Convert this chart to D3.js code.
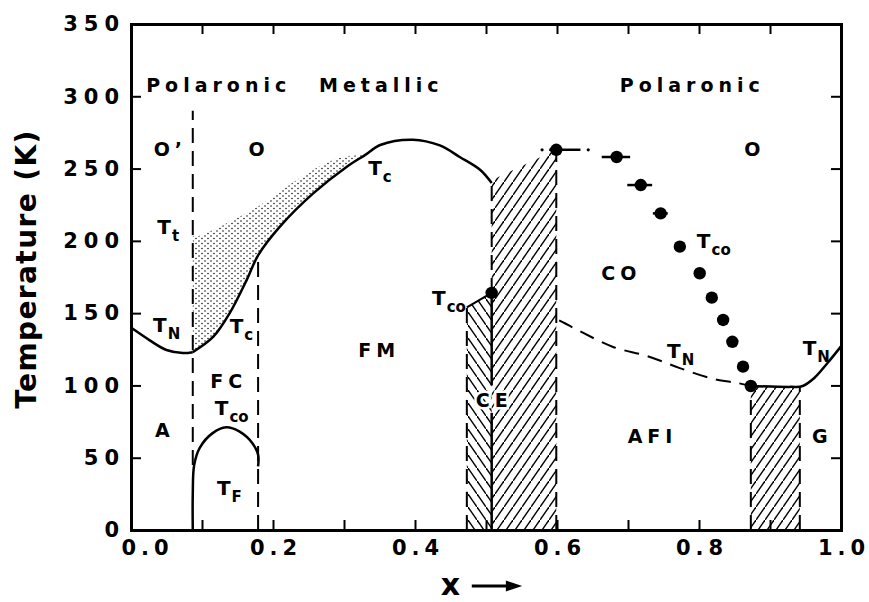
<!DOCTYPE html>
<html>
<head>
<meta charset="utf-8">
<script src="https://cdn.jsdelivr.net/npm/d3@7"></script>
<style>
body { margin: 0; background: #fff; }
text { font-family: "DejaVu Sans", sans-serif; font-weight: bold; fill: #000; }
</style>
</head>
<body>
<div id="the_chart"></div>
<script>
// phase boundaries (x = doping, T in K)
var tnLeftX = [0.0, 0.027, 0.05, 0.073, 0.087];
var tnLeftT = [140, 131, 124.5, 122.4, 123];

var tcX = [0.087, 0.116, 0.139, 0.163, 0.179, 0.210, 0.257, 0.304, 0.33, 0.351, 0.397, 0.435, 0.463, 0.492, 0.508];
var tcT = [123, 133.7, 150, 173, 190, 210, 233, 251.3, 259.5, 266.3, 270, 266, 258, 249, 240];

// upper edge of the stippled band
var stipX = [0.087, 0.09, 0.139, 0.186, 0.233, 0.28, 0.304, 0.33];
var stipT = [204, 203, 213.3, 226, 242, 255, 258.5, 259.5];

var tfX = [0.087, 0.087, 0.089, 0.097, 0.115, 0.134, 0.153, 0.171, 0.179, 0.179];
var tfT = [0, 25, 45, 57, 67, 71, 68, 60, 52, 44];

var tnDashX = [0.603, 0.611, 0.632, 0.679, 0.727, 0.773, 0.82, 0.854, 0.873];
var tnDashT = [145, 143, 137.6, 126.6, 120.3, 112, 104.5, 101.7, 99.6];

var tnRightX = [0.873, 0.93, 0.945, 0.962, 0.981, 1.0];
var tnRightT = [99.6, 99, 99.4, 105, 115.5, 127];

// T_co points with horizontal error bars
var tcoX = [0.508, 0.599, 0.684, 0.718, 0.746, 0.773, 0.801, 0.818, 0.834, 0.847, 0.862, 0.873];
var tcoT = [164, 263, 258, 238.6, 219, 196, 177.6, 160.7, 145.3, 130.2, 113, 99.6];
var tcoErrLo = [0, 0.01, 0.021, 0.019, 0.011, 0, 0, 0, 0, 0, 0, 0];
var tcoErrHi = [0, 0.034, 0.019, 0.016, 0.010, 0, 0, 0, 0, 0, 0, 0];
var guideX = [0.579, 0.644];

// vertical dashed boundaries
var vDashX = [0.087, 0.179, 0.473, 0.508, 0.599, 0.873, 0.942];
var vDashLo = [45, 0, 0, 164, 0, 0, 0];
var vDashHi = [290, 190, 154, 240, 263, 99.6, 99];

// solid boundary under the CE point, split round the label
var ceLineLo = [0, 100];
var ceLineHi = [81, 164];
var ceTopX = [0.473, 0.508];
var ceTopT = [154, 164];

// hatched mixed-phase regions
var hatchBackX = [0.473, 0.473, 0.508, 0.508];
var hatchBackT = [0, 154, 164, 0];
var hatchCeX = [0.508, 0.508, 0.599, 0.599];
var hatchCeT = [0, 242, 263, 0];
var hatchGX = [0.873, 0.873, 0.942, 0.942];
var hatchGT = [0, 99.6, 99, 0];

var xTickVals = [0, 0.1, 0.2, 0.3, 0.4, 0.5, 0.6, 0.7, 0.8, 0.9, 1.0];
var xTickText = ["0.0", "", "0.2", "", "0.4", "", "0.6", "", "0.8", "", "1.0"];
var yTickVals = [0, 50, 100, 150, 200, 250, 300, 350];

var wordText = ["Polaronic", "Metallic", "Polaronic", "O\u2019", "O", "O", "A", "FC", "FM", "CE", "CO", "AFI", "G"];
var wordX = [0.12, 0.349, 0.787, 0.052, 0.177, 0.875, 0.044, 0.134, 0.346, 0.508, 0.687, 0.731, 0.970];
var wordT = [303, 303, 303, 259, 259, 259, 64, 98, 120, 85, 173, 60, 60];

var symSub = ["t", "c", "N", "c", "co", "F", "co", "co", "N", "N"];
var symX = [0.037, 0.334, 0.031, 0.139, 0.118, 0.121, 0.424, 0.797, 0.755, 0.946];
var symT = [205, 245.6, 137, 136, 79.5, 24, 155.6, 195, 119, 121];

var w = 869, h = 602;

var svg = d3.select("#the_chart")
    .append("svg")
    .attr("width", w)
    .attr("height", h);

var x = d3.scaleLinear().domain([0, 1]).range([131, 841]);
var y = d3.scaleLinear().domain([0, 350]).range([530, 24]);

var defs = svg.append("defs");
defs.append("pattern")
    .attr("id", "hatchFwd")
    .attr("patternUnits", "userSpaceOnUse")
    .attr("width", 9).attr("height", 13)
    .append("path")
    .attr("d", "M-2,15.9 L11,-2.9")
    .attr("stroke", "#000").attr("stroke-width", 1.4);
defs.append("pattern")
    .attr("id", "hatchBack")
    .attr("patternUnits", "userSpaceOnUse")
    .attr("width", 9).attr("height", 13)
    .append("path")
    .attr("d", "M-2,-2.9 L11,15.9")
    .attr("stroke", "#000").attr("stroke-width", 1.4);
var stip = defs.append("pattern")
    .attr("id", "stipple")
    .attr("patternUnits", "userSpaceOnUse")
    .attr("width", 6).attr("height", 5);
stip.append("circle").attr("cx", 1).attr("cy", 1).attr("r", 0.75).attr("fill", "#000");
stip.append("circle").attr("cx", 4).attr("cy", 3.5).attr("r", 0.75).attr("fill", "#000");

var smooth = d3.line()
    .x(function (d) { return x(d[0]); })
    .y(function (d) { return y(d[1]); })
    .curve(d3.curveCatmullRom.alpha(0.5));
var straight = d3.line()
    .x(function (d) { return x(d[0]); })
    .y(function (d) { return y(d[1]); });

// stippled band between T_t and T_c
var tcPts = d3.zip(tcX, tcT);
var lowerPts = tcPts.filter(function (d) { return d[0] <= 0.3301; }).reverse();
var stipPath = smooth(d3.zip(stipX, stipT)) + "L" + smooth(lowerPts).slice(1) + "Z";
svg.append("path")
    .attr("d", stipPath)
    .attr("fill", "url(#stipple)");

// hatched regions
svg.append("path").attr("d", straight(d3.zip(hatchBackX, hatchBackT)) + "Z").attr("fill", "url(#hatchBack)");
svg.append("path").attr("d", straight(d3.zip(hatchCeX, hatchCeT)) + "Z").attr("fill", "url(#hatchFwd)");
svg.append("path").attr("d", straight(d3.zip(hatchGX, hatchGT)) + "Z").attr("fill", "url(#hatchFwd)");

// dashed verticals
svg.selectAll("line.vdash")
    .data(vDashX)
    .enter().append("line")
    .attr("class", "vdash")
    .attr("x1", function (d) { return x(d); })
    .attr("x2", function (d) { return x(d); })
    .attr("y1", function (d, i) { return y(vDashLo[i]); })
    .attr("y2", function (d, i) { return y(vDashHi[i]); })
    .attr("stroke", "#000")
    .attr("stroke-width", 2)
    .attr("stroke-dasharray", "15,8");

svg.selectAll("line.ce")
    .data(ceLineLo)
    .enter().append("line")
    .attr("class", "ce")
    .attr("x1", x(0.508)).attr("x2", x(0.508))
    .attr("y1", function (d) { return y(d); })
    .attr("y2", function (d, i) { return y(ceLineHi[i]); })
    .attr("stroke", "#000")
    .attr("stroke-width", 2.5);

svg.append("path")
    .attr("d", straight(d3.zip(ceTopX, ceTopT)))
    .attr("fill", "none").attr("stroke", "#000").attr("stroke-width", 2.2);

// solid phase lines
[d3.zip(tnLeftX, tnLeftT), tcPts, d3.zip(tfX, tfT), d3.zip(tnRightX, tnRightT)].forEach(function (pts) {
    svg.append("path")
        .attr("d", smooth(pts))
        .attr("fill", "none")
        .attr("stroke", "#000")
        .attr("stroke-width", 2.5);
});

svg.append("path")
    .attr("d", smooth(d3.zip(tnDashX, tnDashT)))
    .attr("fill", "none")
    .attr("stroke", "#000")
    .attr("stroke-width", 2)
    .attr("stroke-dasharray", "15,9");

// T_co points
svg.selectAll("line.err")
    .data(tcoX)
    .enter().append("line")
    .attr("class", "err")
    .attr("x1", function (d, i) { return x(d - tcoErrLo[i]); })
    .attr("x2", function (d, i) { return x(d + tcoErrHi[i]); })
    .attr("y1", function (d, i) { return y(tcoT[i]); })
    .attr("y2", function (d, i) { return y(tcoT[i]); })
    .attr("stroke", "#000")
    .attr("stroke-width", 2.5);

svg.selectAll("circle.guide")
    .data(guideX)
    .enter().append("circle")
    .attr("class", "guide")
    .attr("cx", function (d) { return x(d); })
    .attr("cy", y(tcoT[1]))
    .attr("r", 1.6)
    .attr("fill", "#000");

svg.selectAll("circle.tco")
    .data(tcoX)
    .enter().append("circle")
    .attr("class", "tco")
    .attr("cx", function (d) { return x(d); })
    .attr("cy", function (d, i) { return y(tcoT[i]); })
    .attr("r", 6.2)
    .attr("fill", "#000");

// axes with inward ticks
function styleAxis(g) {
    g.select(".domain").attr("stroke-width", 3).attr("stroke-linecap", "square");
    g.selectAll(".tick line").attr("stroke-width", 2);
    g.selectAll("text").attr("font-family", "DejaVu Sans").attr("font-weight", "bold");
}

var xaxis = d3.axisBottom(x)
    .tickValues(xTickVals)
    .tickSizeInner(-10).tickSizeOuter(0).tickPadding(10)
    .tickFormat(function (d, i) { return xTickText[i]; });
var gX = svg.append("g")
    .attr("transform", "translate(0," + y(0) + ")")
    .call(xaxis)
    .call(styleAxis);
gX.selectAll("text")
    .attr("font-size", 21)
    .attr("letter-spacing", 5)
    .attr("dx", function (d) { return d === 0 ? 16 : 2.5; });

svg.append("g")
    .attr("transform", "translate(0," + y(350) + ")")
    .call(d3.axisTop(x).tickValues(xTickVals).tickSizeInner(-10).tickSizeOuter(0).tickFormat(""))
    .call(styleAxis);

var gY = svg.append("g")
    .attr("transform", "translate(" + x(0) + ",0)")
    .call(d3.axisLeft(y).tickValues(yTickVals).tickSizeInner(-10).tickSizeOuter(0).tickPadding(6).tickFormat(d3.format("d")))
    .call(styleAxis);
gY.selectAll("text")
    .attr("font-size", 21)
    .attr("letter-spacing", 6);

svg.append("g")
    .attr("transform", "translate(" + x(1) + ",0)")
    .call(d3.axisRight(y).tickValues(yTickVals).tickSizeInner(-10).tickSizeOuter(0).tickFormat(""))
    .call(styleAxis);

// region words
svg.selectAll("text.word")
    .data(wordText)
    .enter().append("text")
    .attr("class", "word")
    .attr("x", function (d, i) { return x(wordX[i]); })
    .attr("y", function (d, i) { return y(wordT[i]); })
    .attr("dx", 2.5)
    .attr("text-anchor", "middle")
    .attr("font-size", 19)
    .attr("letter-spacing", 5)
    .attr("stroke", function (d) { return d === "CE" ? "#fff" : "none"; })
    .attr("stroke-width", 5)
    .attr("paint-order", "stroke")
    .text(function (d) { return d; });

// temperature symbols with subscripts
var sym = svg.selectAll("text.sym")
    .data(symSub)
    .enter().append("text")
    .attr("class", "sym")
    .attr("x", function (d, i) { return x(symX[i]); })
    .attr("y", function (d, i) { return y(symT[i]); })
    .attr("font-size", 20);
sym.append("tspan").text("T");
sym.append("tspan")
    .attr("font-size", 15)
    .attr("dy", 7)
    .attr("dx", 1)
    .text(function (d) { return d; });

// axis titles
svg.append("text")
    .attr("transform", "translate(36," + (y(0) + y(350)) / 2 + ") rotate(-90)")
    .attr("dx", 8)
    .attr("text-anchor", "middle")
    .attr("font-size", 28)
    .attr("letter-spacing", 1.4)
    .text("Temperature (K)");

svg.append("text")
    .attr("x", x(0.45))
    .attr("y", 595)
    .attr("text-anchor", "middle")
    .attr("font-size", 30)
    .text("x");
svg.append("line")
    .attr("x1", x(0.48)).attr("x2", x(0.535))
    .attr("y1", 586).attr("y2", 586)
    .attr("stroke", "#000").attr("stroke-width", 3);
svg.append("path")
    .attr("d", "M" + x(0.528) + ",580.5 L" + x(0.551) + ",586 L" + x(0.528) + ",591.5 Z")
    .attr("fill", "#000");
</script>
</body>
</html>
